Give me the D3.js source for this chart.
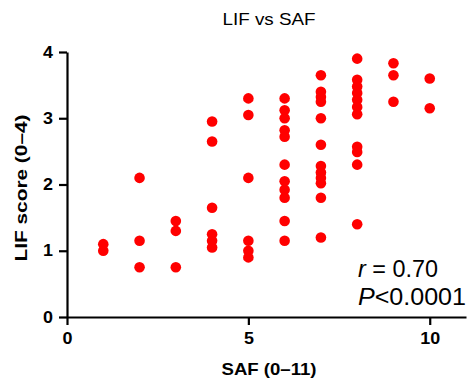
<!DOCTYPE html>
<html>
<head>
<meta charset="utf-8">
<script src="https://cdn.jsdelivr.net/npm/d3@7"></script>
<style>
  body { margin: 0; background: #fff; }
  svg { display: block; font-family: "Liberation Sans", Arial, sans-serif; }
</style>
</head>
<body>
<svg id="chart"></svg>
<script>
// SAF score categories (x) and the LIF scores observed at each one
const safValues = [1, 2, 3, 4, 5, 6, 7, 8, 9, 10];
const lifValues = [
  [1.1, 1.0],
  [2.1, 1.15, 0.75],
  [1.45, 1.3, 0.75],
  [2.95, 2.65, 1.65, 1.25, 1.15, 1.05],
  [3.3, 3.05, 2.1, 1.15, 1.0, 0.9],
  [3.3, 3.12, 3.0, 2.82, 2.72, 2.3, 2.05, 1.92, 1.8, 1.45, 1.15],
  [3.65, 3.4, 3.32, 3.25, 3.0, 2.6, 2.28, 2.18, 2.1, 2.02, 1.8, 1.2],
  [3.9, 3.58, 3.48, 3.38, 3.28, 3.17, 3.06, 2.57, 2.49, 2.3, 1.4],
  [3.83, 3.65, 3.25],
  [3.6, 3.15]
];
const xTicks = [0, 5, 10];
const yTicks = [0, 1, 2, 3, 4];
const stats = { r: "0.70", p: "<0.0001" };

const width = 469, height = 379;

var svg = d3.select("#chart")
    .attr("width", width)
    .attr("height", height);

// flatten into points
var points = [];
safValues.forEach(function(s, i) {
  lifValues[i].forEach(function(v) { points.push({ saf: s, lif: v }); });
});

var x = d3.scaleLinear().domain([0, 11]).range([67, 466]);
var y = d3.scaleLinear().domain([0, 4]).range([317, 52]);

// stretch text a little wider, the original font runs wide
function widen(sel, k) {
  sel.each(function() {
    var w = this.getComputedTextLength();
    d3.select(this).attr("textLength", w * k).attr("lengthAdjust", "spacingAndGlyphs");
  });
}

// X axis
var xAxis = svg.append("g")
    .attr("transform", "translate(0," + y(0) + ")")
    .call(d3.axisBottom(x).tickValues(xTicks).tickFormat(d3.format("d"))
      .tickSize(8).tickSizeOuter(0).tickPadding(8));

// Y axis
var yAxis = svg.append("g")
    .attr("transform", "translate(" + x(0) + ",0)")
    .call(d3.axisLeft(y).tickValues(yTicks).tickFormat(d3.format("d"))
      .tickSize(8).tickSizeOuter(0).tickPadding(6));

[xAxis, yAxis].forEach(function(ax) {
  ax.select(".domain").attr("stroke", "#000").attr("stroke-width", 2.2);
  ax.selectAll(".tick line").attr("stroke", "#000").attr("stroke-width", 2.2);
  ax.selectAll(".tick text")
    .attr("fill", "#000")
    .style("font-family", "'Liberation Sans', Arial, sans-serif")
    .style("font-size", "16px")
    .style("font-weight", "bold");
  widen(ax.selectAll(".tick text"), 1.12);
});

// points
svg.append("g")
  .selectAll("circle")
  .data(points)
  .join("circle")
    .attr("cx", function(d) { return x(d.saf); })
    .attr("cy", function(d) { return y(d.lif); })
    .attr("r", 5.3)
    .attr("fill", "#ff0000");

// title
svg.append("text")
    .attr("x", 269).attr("y", 25)
    .attr("text-anchor", "middle")
    .style("font-size", "16.5px")
    .attr("textLength", 93).attr("lengthAdjust", "spacingAndGlyphs")
    .text("LIF vs SAF");

// axis titles
svg.append("text")
    .attr("x", 269).attr("y", 375)
    .attr("text-anchor", "middle")
    .style("font-size", "17px").style("font-weight", "bold")
    .attr("textLength", 95).attr("lengthAdjust", "spacingAndGlyphs")
    .text("SAF (0–11)");

svg.append("text")
    .attr("transform", "translate(27,188)rotate(-90)")
    .attr("text-anchor", "middle")
    .style("font-size", "17px").style("font-weight", "bold")
    .attr("textLength", 147).attr("lengthAdjust", "spacingAndGlyphs")
    .text("LIF score (0–4)");

// correlation stats
var t1 = svg.append("text")
    .attr("x", 358).attr("y", 277)
    .style("font-size", "23px")
    .attr("textLength", 80).attr("lengthAdjust", "spacingAndGlyphs");
t1.append("tspan").style("font-style", "italic").text("r");
t1.append("tspan").text(" = " + stats.r);

var t2 = svg.append("text")
    .attr("x", 358).attr("y", 305)
    .style("font-size", "23px")
    .attr("textLength", 108).attr("lengthAdjust", "spacingAndGlyphs");
t2.append("tspan").style("font-style", "italic").text("P");
t2.append("tspan").text(stats.p);
</script>
</body>
</html>
